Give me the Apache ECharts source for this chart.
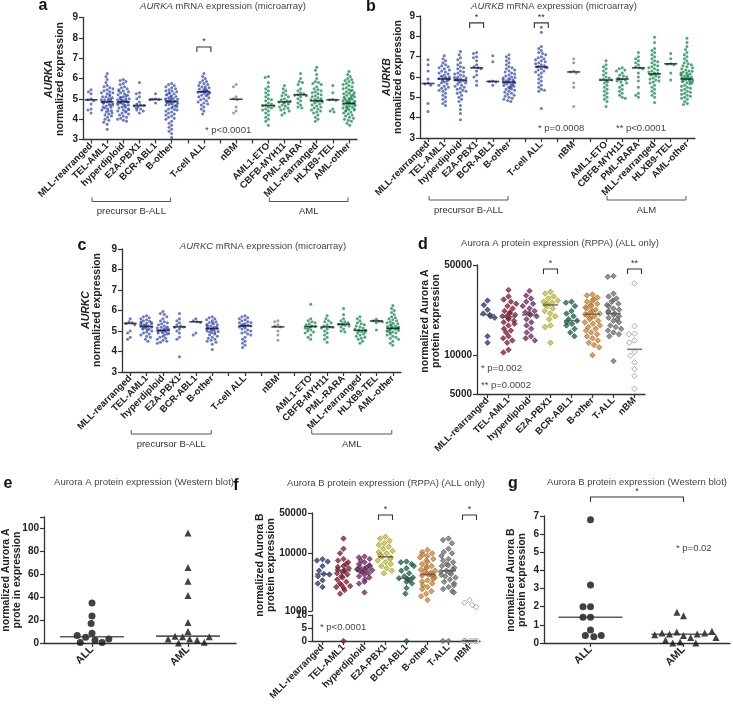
<!DOCTYPE html>
<html><head><meta charset="utf-8">
<script src="https://cdn.jsdelivr.net/npm/echarts@6/dist/echarts.min.js"></script>
<style>html,body{margin:0;padding:0;background:#fff}#c{width:733px;height:704px}</style>
</head><body><div id="c"></div>
<script>
// ---------- categories ----------
const catsMRNA = ['MLL-rearranged','TEL-AML1','hyperdiploid','E2A-PBX1','BCR-ABL1','B-other','','T-cell ALL','','nBM','','AML1-ETO','CBFB-MYH11','PML-RARA','MLL-rearranged','HLXB9-TEL','AML-other'];
const colorKeyMRNA = ['b','b','b','b','b','b','','b','','n','','g','g','g','g','g','g'];
const catsRPPA = ['MLL-rearranged','TEL-AML1','hyperdiploid','E2A-PBX1','BCR-ABL1','B-other','T-ALL','nBM'];
const catsWB = ['ALL','AML'];

// ---------- panel a: AURKA ----------
const aMLL = [5.45,5.35,5.25,5.0,4.95,4.9,4.75,4.5,4.45,4.3];
const aTEL = [6.25,6.1,5.95,5.8,5.65,5.6,5.55,5.5,5.45,5.4,5.35,5.3,5.3,5.25,5.2,5.15,5.1,5.1,5.05,5.0,5.0,4.95,4.95,4.9,4.9,4.88,4.85,4.85,4.82,4.8,4.8,4.75,4.72,4.7,4.7,4.65,4.6,4.58,4.55,4.5,4.45,4.42,4.4,4.35,4.3,4.25,4.2,4.15,4.1,4.0,3.95,3.85,3.75,3.5];
const aHyp = [5.95,5.9,5.85,5.75,5.7,5.6,5.55,5.5,5.45,5.4,5.38,5.35,5.3,5.25,5.2,5.18,5.15,5.1,5.08,5.05,5.0,5.0,4.98,4.95,4.92,4.9,4.9,4.88,4.85,4.85,4.85,4.82,4.8,4.78,4.75,4.72,4.7,4.68,4.65,4.6,4.58,4.55,4.5,4.48,4.45,4.4,4.38,4.35,4.3,4.25,4.2,4.15,4.1,4.05,4.0,3.95,3.9];
const aE2A = [5.8,5.3,5.25,5.1,5.0,4.85,4.75,4.7,4.67,4.65,4.6,4.55,4.5,4.45,4.4,4.3];
const aBCR = [5.25,5.0,4.98,4.97,4.95,4.8];
const aBoth = [5.75,5.7,5.65,5.6,5.55,5.5,5.45,5.4,5.38,5.35,5.3,5.28,5.25,5.2,5.2,5.15,5.12,5.1,5.05,5.02,5.0,5.0,4.98,4.95,4.92,4.9,4.88,4.87,4.86,4.85,4.85,4.82,4.8,4.78,4.75,4.72,4.7,4.68,4.65,4.62,4.6,4.55,4.5,4.48,4.45,4.4,4.35,4.3,4.25,4.2,4.15,4.1,4.05,4.0,3.9,3.8,3.7,3.6,3.5,3.4,3.3,3.1];
const aT = [6.25,6.1,6.0,5.9,5.85,5.8,5.75,5.7,5.65,5.6,5.58,5.55,5.5,5.48,5.45,5.42,5.4,5.38,5.36,5.35,5.34,5.32,5.3,5.28,5.25,5.2,5.18,5.15,5.1,5.05,5.0,4.95,4.9,4.85,4.8,4.75,4.7,4.6,4.5,4.4,4.25];
const aNBM = [5.7,5.6,5.1,5.0,4.95,4.6,4.4,4.3];
const aETO = [6.1,6.05,5.8,5.6,5.5,5.4,5.3,5.2,5.1,5.0,4.95,4.9,4.8,4.75,4.7,4.67,4.65,4.6,4.55,4.5,4.45,4.4,4.3,4.2,4.1,4.0,3.9,3.7];
const aCBF = [5.65,5.5,5.4,5.3,5.2,5.15,5.1,5.0,4.95,4.9,4.88,4.85,4.83,4.8,4.75,4.7,4.65,4.6,4.55,4.5,4.45,4.4,4.3,4.2];
const aPML = [6.25,6.0,5.85,5.8,5.7,5.5,5.4,5.3,5.25,5.2,5.18,5.15,5.1,5.0,4.9,4.8,4.7,4.6,4.55];
const aMLL2 = [6.55,6.4,6.2,6.0,5.85,5.8,5.75,5.7,5.6,5.5,5.45,5.4,5.35,5.3,5.25,5.2,5.15,5.1,5.05,5.0,4.98,4.95,4.92,4.9,4.9,4.88,4.85,4.8,4.75,4.7,4.65,4.6,4.55,4.5,4.45,4.4,4.35,4.3,4.2,4.1,4.0,3.9];
const aHLX = [5.65,5.3,4.98,4.95,4.93,4.5,4.4,4.35];
const aAMLo = [6.35,6.2,6.1,6.0,5.95,5.9,5.85,5.8,5.75,5.7,5.65,5.6,5.55,5.5,5.45,5.42,5.4,5.35,5.3,5.28,5.25,5.2,5.18,5.15,5.1,5.08,5.05,5.02,5.0,4.98,4.95,4.92,4.9,4.88,4.86,4.84,4.82,4.8,4.78,4.78,4.76,4.75,4.72,4.7,4.68,4.65,4.62,4.6,4.58,4.55,4.52,4.5,4.48,4.45,4.42,4.4,4.35,4.3,4.25,4.2,4.15,4.1,4.05,4.0,3.95,3.9,3.8,3.7];
const aMedian = [4.95,4.85,4.85,4.67,4.97,4.87,null,5.35,null,4.98,null,4.67,4.85,5.2,4.9,4.95,4.78];

// ---------- panel b: AURKB ----------
const bMLL = [6.85,6.6,6.3,5.9,5.7,5.65,5.6,4.7,4.3];
const bTEL = [7.05,6.9,6.8,6.7,6.6,6.55,6.5,6.45,6.4,6.35,6.3,6.25,6.2,6.15,6.1,6.05,6.0,6.0,5.98,5.95,5.93,5.9,5.9,5.88,5.85,5.82,5.8,5.75,5.7,5.65,5.6,5.55,5.5,5.45,5.4,5.35,5.3,5.2,5.1,5.0,4.9,4.8,4.7,4.6];
const bHyp = [7.25,7.1,6.95,6.85,6.7,6.6,6.5,6.45,6.4,6.3,6.25,6.2,6.15,6.1,6.05,6.0,5.98,5.95,5.92,5.9,5.88,5.85,5.85,5.82,5.8,5.78,5.75,5.7,5.65,5.6,5.55,5.5,5.45,5.4,5.35,5.3,5.25,5.2,5.1,5.0,4.9,4.8,4.6,4.4,4.2,3.9];
const bE2A = [7.2,7.15,7.0,6.95,6.8,6.6,6.5,6.45,6.4,6.3,6.1,6.0,5.8,5.6];
const bBCR = [7.05,6.75,5.8,5.78,5.75,5.6];
const bBoth = [7.1,7.0,6.9,6.8,6.7,6.6,6.5,6.45,6.4,6.35,6.3,6.25,6.2,6.15,6.1,6.05,6.0,5.98,5.95,5.92,5.9,5.88,5.85,5.82,5.8,5.78,5.76,5.75,5.74,5.72,5.7,5.68,5.65,5.62,5.6,5.58,5.55,5.52,5.5,5.48,5.45,5.42,5.4,5.35,5.3,5.25,5.2,5.15,5.1,5.05,5.0,4.95,4.9,4.85,4.8];
const bT = [8.45,8.2,7.5,7.4,7.3,7.2,7.15,7.1,7.0,6.95,6.9,6.85,6.8,6.75,6.7,6.65,6.6,6.55,6.52,6.5,6.48,6.45,6.4,6.35,6.3,6.25,6.2,6.1,6.0,5.9,5.8,5.7,5.6,5.5,5.4,5.35,5.3,4.45];
const bNBM = [6.9,6.7,6.3,6.25,6.2,5.7,5.5,4.55];
const bETO = [6.8,6.6,6.5,6.4,6.3,6.2,6.1,6.0,5.95,5.9,5.87,5.85,5.83,5.8,5.75,5.7,5.6,5.5,5.4,5.3,5.2,5.1,5.0,4.9,4.8,4.55];
const bCBF = [6.45,6.4,6.35,6.3,6.2,6.1,6.05,6.0,5.95,5.9,5.88,5.85,5.8,5.75,5.7,5.6,5.5,5.4,5.3,5.2,5.1,5.0,4.95];
const bPML = [7.2,7.0,6.9,6.8,6.7,6.6,6.5,6.45,6.4,6.2,6.0,5.8,5.5,5.2,5.1,5.0];
const bMLL2 = [7.95,7.7,7.4,7.3,7.2,7.1,7.0,6.9,6.8,6.75,6.7,6.6,6.55,6.5,6.45,6.4,6.35,6.3,6.25,6.2,6.18,6.15,6.12,6.1,6.05,6.0,5.95,5.9,5.85,5.8,5.75,5.7,5.6,5.5,5.4,5.3,5.2,5.1,5.0,4.75];
const bHLX = [7.15,6.9,6.65,6.63,6.6,6.2,5.85];
const bAMLo = [7.9,7.7,7.5,7.35,7.2,7.1,7.0,6.9,6.8,6.7,6.65,6.6,6.55,6.5,6.45,6.4,6.35,6.3,6.28,6.25,6.2,6.18,6.15,6.12,6.1,6.08,6.05,6.02,6.0,5.98,5.95,5.93,5.9,5.9,5.88,5.85,5.82,5.8,5.78,5.75,5.72,5.7,5.65,5.6,5.55,5.5,5.45,5.4,5.35,5.3,5.25,5.2,5.15,5.1,5.05,5.0,4.95,4.9,4.8,4.7,4.65];
const bMedian = [5.68,5.9,5.85,6.45,5.78,5.75,null,6.5,null,6.25,null,5.85,5.9,6.45,6.15,6.65,5.9];

// ---------- panel c: AURKC ----------
const cMLL = [5.6,5.45,5.4,5.37,5.3,5.0,4.9,4.7,4.6];
const cTEL = [5.75,5.7,5.65,5.6,5.55,5.5,5.48,5.45,5.42,5.4,5.38,5.35,5.32,5.3,5.28,5.25,5.23,5.22,5.2,5.18,5.15,5.12,5.1,5.08,5.05,5.0,4.95,4.9,4.85,4.8,4.75,4.7,4.6,4.5];
const cHyp = [5.95,5.85,5.8,5.7,5.6,5.5,5.45,5.4,5.35,5.3,5.25,5.2,5.18,5.15,5.12,5.1,5.08,5.05,5.03,5.02,5.0,4.98,4.95,4.92,4.9,4.88,4.85,4.8,4.75,4.7,4.65,4.6,4.55,4.5,4.45,4.4];
const cE2A = [5.85,5.6,5.5,5.4,5.3,5.25,5.2,5.18,5.1,5.0,4.9,4.7,4.6,3.75];
const cBCR = [5.6,5.5,5.45,5.42,4.9,4.8];
const cBoth = [5.7,5.65,5.6,5.55,5.5,5.45,5.42,5.4,5.35,5.32,5.3,5.28,5.25,5.22,5.2,5.18,5.15,5.13,5.12,5.11,5.1,5.08,5.05,5.02,5.0,4.98,4.95,4.92,4.9,4.85,4.8,4.75,4.7,4.65,4.6,4.55,4.5,4.45,4.35,4.1];
const cT = [5.75,5.7,5.65,5.6,5.55,5.5,5.45,5.42,5.4,5.35,5.32,5.3,5.28,5.26,5.25,5.24,5.22,5.2,5.15,5.1,5.05,5.0,4.95,4.9,4.85,4.8,4.7,4.6,4.5,4.4,4.3,4.2];
const cNBM = [5.5,5.45,5.3,5.25,5.2,5.0,4.8,4.55];
const cETO = [6.3,5.6,5.5,5.45,5.4,5.35,5.3,5.25,5.22,5.2,5.18,5.15,5.1,5.05,5.0,4.95,4.9,4.8,4.7,4.6];
const cCBF = [5.75,5.6,5.5,5.45,5.4,5.3,5.25,5.2,5.18,5.15,5.1,5.0,4.9,4.8,4.7,4.6,4.45];
const cPML = [6.1,5.8,5.6,5.5,5.45,5.4,5.35,5.33,5.3,5.28,5.25,5.2,5.1,5.0,4.95];
const cMLL2 = [5.7,5.6,5.5,5.4,5.35,5.3,5.25,5.2,5.15,5.1,5.05,5.03,5.02,5.0,4.98,4.95,4.9,4.85,4.8,4.75,4.7,4.65,4.6,4.5,4.4];
const cHLX = [5.57,5.5,5.48,5.45,5.4,5.05];
const cAMLo = [6.25,6.1,6.0,5.9,5.8,5.7,5.65,5.6,5.55,5.5,5.45,5.4,5.38,5.35,5.3,5.28,5.25,5.22,5.2,5.18,5.16,5.15,5.14,5.13,5.12,5.1,5.08,5.05,5.02,5.0,4.98,4.95,4.92,4.9,4.85,4.8,4.75,4.7,4.65,4.6,4.5,4.4,4.3];
const cMedian = [5.37,5.22,5.03,5.2,5.45,5.12,null,5.25,null,5.2,null,5.22,5.2,5.33,5.03,5.49,5.13];

// ---------- panel d: Aurora A RPPA ----------
const dMLL = [26500,24500,22500,21000,20500,20000,19500,14000,12500];
const dTEL = [32000,28500,27000,26000,25000,24000,23000,22000,21500,21000,20500,20000,20000,19500,19000,18500,18000,17500,17000,16000,15500,15000,14000,13500,13000,12500,11000,10500];
const dHyp = [31500,29000,27500,26000,25000,24000,23000,22000,21500,21000,20500,20000,19000,18000,17000,16000,15000,14000,13500,13000];
const dE2A = [31000,30000,28500,27500,26500,26000,25500,25000,24500,24000,23000,22000,21000,20000,19000,17000,16500,12500];
const dBCR = [26000,25500,24000,22000,21000,20000,19000,18500,18000,17500,17000,16000,15000,14000];
const dBo = [29500,29000,28000,27000,26500,26000,25000,24500,24000,23500,23000,22500,22000,21500,21000,20800,20500,20000,19500,19000,18500,18000,17500,17000,16500,16000,15500,15000,14500,14000,13500,13000,12500,12000,11500,10000];
const dT = [41000,40500,30000,28500,27500,26500,26000,25000,24500,24000,23000,22500,22000,21500,21000,20500,20000,19500,19000,18500,18000,17000,16500,16000,15500,15000,14500,14000,9000];
const dNBM = [36000,16800,14700,14500,13000,12500,10600,9900,8800,7800,6900,5500];
const dMedian = [20600,19800,20500,24500,18500,20800,21000,11100];

// ---------- panel e: Aurora A western blot ----------
const eALL = [35,23.5,17,8.5,5,2.5,0.5,0.5,3.5,6.5];
const eAML = [96,66,54,41.5,18,10,5.5,3.5,2.6,6,0,0.6,3.5,5.5];
const eMedian = [5.5,6];

// ---------- panel f: Aurora B RPPA (0 = below detection, lower axis) ----------
const fMLL = [7900,7500,7200,6000,5000,4400,4300,4000,3400,3000,2600];
const fTEL = [18000,12000,10000,8000,7500,7000,6500,6000,5800,5500,5200,5000,5000,4800,4500,4300,4000,3800,3500,3200,3000,2800,2700,2600,2500,2300,2000,0];
const fHyp = [8800,8500,8000,7500,7000,6500,6200,6000,5800,5600,5400,5300,5200,5100,5000,4900,4700,4500,4300,4000,3800,3500,3200,3000,2100];
const fE2A = [19400,18000,16500,15000,14000,13000,12000,11000,10500,10000,9500,9000,8700,8500,8000,7500,7000,6500,6000,5500,5000,4500];
const fBCR = [7200,7000,6500,6000,5500,5000,4500,4000,3800,3700,3600,3500,3400,3200,3000,2500,2000,0];
const fBo = [11400,10500,10000,9500,9000,8500,8000,7500,7000,6500,6000,5800,5500,5200,5000,4800,4600,4400,4300,4200,4100,4000,3800,3600,3400,3200,3000,2800,2600,2400,2200,2000,1800,1550];
const fT = [18000,17000,15000,12000,10500,10000,9000,8000,7500,7000,6500,6200,6000,5600,5200,5000,4800,4600,4400,4200,4000,3800,3500,3200,3000,2800,2600,2400,2200,2100,0,0];
const fNBM = [1550,1390,1270,1170,0,0,0,0,0,0,0,0,0];
const fMedian = [4380,5000,5280,8700,3690,4300,5000,0];

// ---------- panel g: Aurora B western blot ----------
const gALL = [6.8,3.2,2.0,2.0,1.42,1.42,0.72,0.42,0.35,0.42];
const gAML = [1.5,1.7,0.42,0.6,0.3,0.5,0.5,0.55,0.55,0.65,0.45,0.3,0.05,0,0,0.15];
const gMedian = [1.42,0.48];

// ---------- significance brackets ----------
const sigA = [{from:7,to:7,value:7.55,mark:'*'}];
const sigB = [{from:3,to:3,value:8.66,mark:'*'},{from:7,to:7,value:8.66,mark:'**'}];
const sigD = [{from:3,to:3,value:46600,mark:'*'},{from:7,to:7,value:46600,mark:'**'}];
const sigF = [{from:3,to:3,value:46100,mark:'*'},{from:7,to:7,value:46100,mark:'*'}];
const sigG = [{from:0,to:1,value:8.05,mark:'*'}];

// ---------- group labels under the mRNA panels ----------
const groupsA = [{from:0,to:5,label:'precursor B-ALL'},{from:11,to:16,label:'AML'}];
const groupsB = [{from:0,to:5,label:'precursor B-ALL'},{from:11,to:16,label:'ALM'}];
const groupsC = [{from:0,to:5,label:'precursor B-ALL'},{from:11,to:16,label:'AML'}];

// =====================================================================
const FF = "'Liberation Sans', Arial, Helvetica, sans-serif";
const AX = '#333';
const BLUE = '#4357b8', GREEN = '#22905a', GRAY = '#8a8a8a';
const rppaColors = ['#2c3c80','#8c1f36','#7a2d6d','#cbc23a','#1e6b4c','#d7893a','#777777','#ffffff'];
const rppaBorders = ['#1a2455','#5a1020','#4e1a45','#857f18','#0f4030','#8f5212','#444444','#666666'];

const grids = [
  {left:83, top:17.5, width:274, height:122},   // a
  {left:420, top:16, width:275, height:122},    // b
  {left:122, top:249, width:279, height:123},   // c
  {left:477, top:265, width:168, height:129},   // d
  {left:44, top:517, width:192, height:126},    // e
  {left:312, top:513, width:168, height:98},    // f upper
  {left:312, top:615, width:168, height:26},    // f lower
  {left:544, top:516, width:186, height:127}    // g
];

function visX(gi, cats, jitter, opts) {
  opts = opts || {};
  return {
    type:'category', gridIndex:gi, data:cats, boundaryGap:true,
    jitter:jitter, jitterOverlap:false, jitterMargin: opts.margin != null ? opts.margin : 0.3,
    axisLine:{show: opts.noLine ? false : true, lineStyle:{color:AX, width:1.3}},
    axisTick:{show: opts.noLine ? false : true, alignWithLabel:true, length:4, lineStyle:{color:AX, width:1.2}},
    axisLabel:{show: opts.noLabel ? false : true, rotate:45, interval:0, fontSize: opts.fs || 9.5, fontWeight:'bold', color:'#222', fontFamily:FF, margin:5},
    splitLine:{show:false}
  };
}
function hidX(gi, cats) {
  return {type:'category', gridIndex:gi, data:cats, boundaryGap:true, show:false};
}
const plainNum = v => String(Math.round(v));
function valY(gi, o) {
  return Object.assign({
    type:'value', gridIndex:gi,
    axisLine:{show:true, lineStyle:{color:AX, width:1.3}},
    axisTick:{show:true, length:4, lineStyle:{color:AX, width:1.2}},
    axisLabel:{fontSize:10, fontWeight:'bold', color:'#222', fontFamily:FF, margin:5},
    splitLine:{show:false}
  }, o);
}
const logLabel = {fontSize:10, fontWeight:'bold', color:'#222', fontFamily:FF, margin:5, formatter:plainNum};

const xAxis = [
  visX(0, catsMRNA, 12), hidX(0, catsMRNA),
  visX(1, catsMRNA, 12), hidX(1, catsMRNA),
  visX(2, catsMRNA, 12), hidX(2, catsMRNA),
  visX(3, catsRPPA, 17, {margin:0.2}), hidX(3, catsRPPA),
  visX(4, catsWB, 66, {margin:0.5, fs:10.5}), hidX(4, catsWB),
  visX(5, catsRPPA, 17, {margin:0.2, noLine:true, noLabel:true}), hidX(5, catsRPPA),
  visX(6, catsRPPA, 17, {margin:0.2}), hidX(6, catsRPPA),
  visX(7, catsWB, 80, {margin:0.5, fs:10.5}), hidX(7, catsWB)
];
const yAxis = [
  valY(0, {min:3, max:9, interval:1}),
  valY(1, {min:3, max:9, interval:1}),
  valY(2, {min:3, max:9, interval:1}),
  valY(3, {type:'log', logBase:10, min:5000, max:50000, axisLabel:logLabel}),
  valY(4, {min:0, max:110, interval:20, axisLabel:{fontSize:10, fontWeight:'bold', color:'#222', fontFamily:FF, margin:5, formatter:v => (v % 20 === 0 && v <= 100) ? String(v) : ''}}),
  valY(5, {type:'log', logBase:10, min:1000, max:50000, axisLabel:logLabel}),
  valY(6, {min:0, max:10, interval:5}),
  valY(7, {min:0, max:7, interval:1})
];

const series = [];
function scatter(xi, yi, data, o) {
  series.push(Object.assign({
    type:'scatter', xAxisIndex:xi, yAxisIndex:yi, data:data, silent:true, animation:false
  }, o));
}
function medianSeries(xi, yi, med, w, color) {
  const data = [];
  med.forEach((m, i) => { if (m != null) data.push([i, m]); });
  scatter(xi, yi, data, {symbol:'rect', symbolSize:[w, 1.6], itemStyle:{color: color || '#1a1a1a'}, z:5});
}
function sigSeries(xi, yi, list) {
  series.push({
    type:'custom', xAxisIndex:xi, yAxisIndex:yi, silent:true, animation:false, clip:false, z:6,
    data: list.map(s => [s.from, s.value]),
    renderItem: function (params, api) {
      const s = list[params.dataIndex];
      const pa = api.coord([s.from, s.value]);
      const pb = api.coord([s.to, s.value]);
      let xa = pa[0], xb = pb[0];
      if (s.from === s.to) { xa -= 7; xb += 7; }
      const y = pa[1];
      return {type:'group', children:[
        {type:'polyline', shape:{points:[[xa, y + 5], [xa, y], [xb, y], [xb, y + 5]]}, style:{stroke:'#333', lineWidth:1.1, fill:null}},
        {type:'text', style:{text:s.mark, x:(xa + xb) / 2, y:y - 1, align:'center', verticalAlign:'bottom', fontSize:9, fontFamily:FF, fill:'#333'}}
      ]};
    }
  });
}
function groupSeries(xi, yi, list, yBase, offset) {
  series.push({
    type:'custom', xAxisIndex:xi, yAxisIndex:yi, silent:true, animation:false, clip:false,
    data: list.map(s => [s.from, yBase]),
    renderItem: function (params, api) {
      const s = list[params.dataIndex];
      const pa = api.coord([s.from, yBase]);
      const pb = api.coord([s.to, yBase]);
      const y = pa[1] + offset;
      const xa = pa[0] + 1, xb = pb[0] - 1;
      return {type:'group', children:[
        {type:'polyline', shape:{points:[[xa, y - 4], [xa, y], [xb, y], [xb, y - 4]]}, style:{stroke:'#555', lineWidth:1, fill:null}},
        {type:'text', style:{text:s.label, x:(xa + xb) / 2, y:y + 10, align:'center', verticalAlign:'middle', fontSize:9.5, fontFamily:FF, fill:'#333'}}
      ]};
    }
  });
}

// mRNA panels
function mrnaPanel(xi, yi, lists, med, sig, groups) {
  const buckets = {b:[], n:[], g:[]};
  lists.forEach((arr, ci) => { arr.forEach(v => buckets[colorKeyMRNA[ci]].push([ci, v])); });
  scatter(xi, yi, buckets.b, {symbol:'circle', symbolSize:3, itemStyle:{color:BLUE}});
  scatter(xi, yi, buckets.n, {symbol:'circle', symbolSize:3, itemStyle:{color:GRAY}});
  scatter(xi, yi, buckets.g, {symbol:'circle', symbolSize:3, itemStyle:{color:GREEN}});
  medianSeries(xi + 1, yi, med, 13);
  sigSeries(xi + 1, yi, sig);
  groupSeries(xi + 1, yi, groups, 3, 62);
}
mrnaPanel(0, 0, [aMLL,aTEL,aHyp,aE2A,aBCR,aBoth,[],aT,[],aNBM,[],aETO,aCBF,aPML,aMLL2,aHLX,aAMLo], aMedian, sigA, groupsA);
mrnaPanel(2, 1, [bMLL,bTEL,bHyp,bE2A,bBCR,bBoth,[],bT,[],bNBM,[],bETO,bCBF,bPML,bMLL2,bHLX,bAMLo], bMedian, sigB, groupsB);
mrnaPanel(4, 2, [cMLL,cTEL,cHyp,cE2A,cBCR,cBoth,[],cT,[],cNBM,[],cETO,cCBF,cPML,cMLL2,cHLX,cAMLo], cMedian, [], groupsC);

// d
[dMLL,dTEL,dHyp,dE2A,dBCR,dBo,dT,dNBM].forEach((arr, ci) => {
  scatter(6, 3, arr.map(v => [ci, v]), {symbol:'diamond', symbolSize:5.5, itemStyle:{color:rppaColors[ci], borderColor:rppaBorders[ci], borderWidth:0.7}});
});
medianSeries(7, 3, dMedian, 15, '#555');
sigSeries(7, 3, sigD);

// e
scatter(8, 4, eALL.map(v => [0, v]), {symbol:'circle', symbolSize:7, itemStyle:{color:'#111'}});
scatter(8, 4, eAML.map(v => [1, v]), {symbol:'triangle', symbolSize:7, itemStyle:{color:'#111'}});
medianSeries(9, 4, eMedian, 64, '#333');

// f (positive values on log axis, zeros on lower linear axis)
[fMLL,fTEL,fHyp,fE2A,fBCR,fBo,fT,fNBM].forEach((arr, ci) => {
  const st = {symbol:'diamond', symbolSize:5.5, itemStyle:{color:rppaColors[ci], borderColor:rppaBorders[ci], borderWidth:0.7}};
  scatter(10, 5, arr.filter(v => v > 0).map(v => [ci, v]), st);
  scatter(12, 6, arr.filter(v => v === 0).map(v => [ci, v]), st);
});
medianSeries(11, 5, fMedian.map(m => m > 0 ? m : null), 15, '#555');
medianSeries(13, 6, fMedian.map(m => m === 0 ? m : null), 15, '#111');
sigSeries(11, 5, sigF);

// g
scatter(14, 7, gALL.map(v => [0, v]), {symbol:'circle', symbolSize:7, itemStyle:{color:'#111'}});
scatter(14, 7, gAML.map(v => [1, v]), {symbol:'triangle', symbolSize:7, itemStyle:{color:'#111'}});
medianSeries(15, 7, gMedian, 64, '#333');
sigSeries(15, 7, sigG);

// ---------- texts ----------
const graphic = [];
function txt(x, y, text, style, rot) {
  graphic.push({type:'text', x:x, y:y, rotation:rot || 0, silent:true,
    style:Object.assign({text:text, fill:'#222', fontFamily:FF, fontSize:10, align:'center', verticalAlign:'middle'}, style || {})});
}
const itl = {fontStyle:'italic', fontSize:9.5, fontFamily:FF, fill:'#444'};
const titleStyle = {fontSize:9.5, fill:'#444', rich:{i:itl}};
txt(223, 6, '{i|AURKA} mRNA expression (microarray)', titleStyle);
txt(554, 6, '{i|AURKB} mRNA expression (microarray)', titleStyle);
txt(263, 246, '{i|AURKC} mRNA expression (microarray)', titleStyle);
txt(560, 243, 'Aurora A protein expression (RPPA) (ALL only)', {fontSize:9.5, fill:'#444'});
txt(144, 482, 'Aurora A protein expression (Western blot)', {fontSize:9.5, fill:'#444'});
txt(386, 483, 'Aurora B protein expression (RPPA) (ALL only)', {fontSize:9.5, fill:'#444'});
txt(637, 482, 'Aurora B protein expression (Western blot)', {fontSize:9.5, fill:'#444'});

const letter = {fontSize:16, fontWeight:'bold', fill:'#111'};
txt(43, 6, 'a', letter);
txt(371, 7, 'b', letter);
txt(82, 246, 'c', letter);
txt(423, 245, 'd', letter);
txt(8, 484, 'e', letter);
txt(236, 486, 'f', letter);
txt(513, 484, 'g', letter);

const yn = {fontWeight:'bold', fontSize:10.5, fontFamily:FF, fill:'#222', lineHeight:11};
const yni = Object.assign({}, yn, {fontStyle:'italic'});
const ynStyle = {rich:{bi:yni, b:yn}};
const R = Math.PI / 2;
txt(55, 79, '{bi|AURKA}\n{b|normalized expression}', ynStyle, R);
txt(393, 77, '{bi|AURKB}\n{b|normalized expression}', ynStyle, R);
txt(92, 310, '{bi|AURKC}\n{b|normalized expression}', ynStyle, R);
txt(431, 321, '{b|normalized Aurora A}\n{b|protein expression}', ynStyle, R);
txt(12, 580, '{b|normalized Aurora A}\n{b|prote in expression}', ynStyle, R);
txt(266, 565, '{b|normalized Aurora B}\n{b|protein expression}', ynStyle, R);
txt(517, 580, '{b|normalized Aurora B}\n{b|protein expression}', ynStyle, R);

const pv = {fontSize:9.5, fill:'#444', align:'left'};
txt(205, 130, '* p<0.0001', pv);
txt(538, 128, '* p=0.0008', pv);
txt(616, 128, '** p<0.0001', pv);
txt(481, 368, '* p=0.002', pv);
txt(481, 385, '** p=0.0002', pv);
txt(320, 627, '* p<0.0001', pv);
txt(676, 548, '* p=0.02', pv);

const chart = echarts.init(document.getElementById('c'), null, {renderer:'canvas'});
chart.setOption({
  animation:false,
  backgroundColor:'#ffffff',
  textStyle:{fontFamily:FF},
  grid:grids, xAxis:xAxis, yAxis:yAxis, series:series, graphic:graphic
});
</script></body></html>
